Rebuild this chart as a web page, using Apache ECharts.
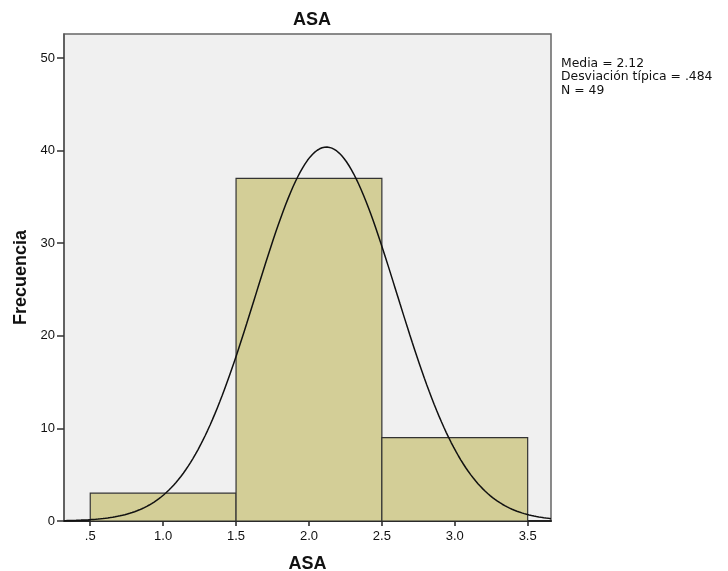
<!DOCTYPE html>
<html>
<head>
<meta charset="utf-8">
<script src="https://cdn.jsdelivr.net/npm/echarts@6/dist/echarts.min.js"></script>
<style>
  html, body { margin: 0; padding: 0; background: #fff; }
  #chart { width: 728px; height: 571px; }
</style>
</head>
<body>
<div id="chart"></div>
<script>
// histograma ASA
const binStarts = [0.5, 1.5, 2.5]
const binEnds = [1.5, 2.5, 3.5]
const counts = [3, 37, 9]
const xTicks = [0.5, 1.0, 1.5, 2.0, 2.5, 3.0, 3.5]
const xTickLabels = ['.5', '1.0', '1.5', '2.0', '2.5', '3.0', '3.5']
const statLines = ['Media = 2.12', 'Desviación típica = .484', 'N = 49']
const mean = 2.12
const sd = 0.484
const n = 49
const binWidth = 1

const xMin = 0.32
const xMax = 3.66

// curva normal ajustada a partir de media, desviación y N
const curve = []
for (let i = 0; i <= 200; i++) {
  const x = xMin + (xMax - xMin) * i / 200
  const z = (x - mean) / sd
  curve.push([x, n * binWidth / (sd * Math.sqrt(2 * Math.PI)) * Math.exp(-0.5 * z * z)])
}

const bars = binStarts.map((s, i) => [s, binEnds[i], counts[i]])

const narrow = '"Liberation Sans Narrow", "Arial Narrow", "Liberation Sans", sans-serif'

const myChart = echarts.init(document.getElementById('chart'))
const option = {
  animation: false,
  title: {
    text: 'ASA',
    left: 307,
    top: 6,
    textAlign: 'center',
    textStyle: { fontFamily: narrow, fontSize: 18, fontWeight: 'bold', color: '#111' }
  },
  grid: {
    left: 64, top: 34, right: 177, bottom: 50,
    outerBoundsMode: 'none',
    containLabel: false,
    show: true,
    backgroundColor: '#f0f0f0',
    borderColor: '#666',
    borderWidth: 1.5
  },
  xAxis: {
    type: 'value',
    min: xMin,
    max: xMax,
    name: 'ASA',
    nameLocation: 'middle',
    nameGap: 34,
    nameTextStyle: { fontFamily: narrow, fontSize: 18, fontWeight: 'bold', color: '#111' },
    splitLine: { show: false },
    axisLine: { lineStyle: { color: '#222', width: 2 } },
    axisTick: { customValues: xTicks, length: 5, lineStyle: { color: '#222', width: 1.5 } },
    axisLabel: {
      customValues: xTicks,
      formatter: v => xTickLabels[xTicks.findIndex(t => Math.abs(t - v) < 1e-6)],
      margin: 9,
      fontFamily: narrow,
      fontSize: 13,
      color: '#111'
    }
  },
  yAxis: {
    type: 'value',
    min: 0,
    max: 52.6,
    interval: 10,
    name: 'Frecuencia',
    nameLocation: 'middle',
    nameGap: 33,
    nameTextStyle: { fontFamily: narrow, fontSize: 18, fontWeight: 'bold', color: '#111' },
    splitLine: { show: false },
    axisLine: { show: true, lineStyle: { color: '#555', width: 1.5 } },
    axisTick: { show: true, length: 7, lineStyle: { color: '#333', width: 1.5 } },
    axisLabel: {
      margin: 9,
      fontFamily: narrow,
      fontSize: 13,
      color: '#111',
      showMaxLabel: false
    }
  },
  graphic: [{
    type: 'text',
    left: 561,
    top: 57,
    style: {
      text: statLines.join('\n'),
      fontFamily: '"DejaVu Sans", sans-serif',
      fontSize: 12.4,
      lineHeight: 13.5,
      fill: '#111'
    }
  }],
  series: [
    {
      type: 'custom',
      data: bars,
      encode: { x: [0, 1], y: 2 },
      renderItem: (params, api) => {
        const p0 = api.coord([api.value(0), api.value(2)])
        const p1 = api.coord([api.value(1), 0])
        return {
          type: 'rect',
          shape: { x: p0[0], y: p0[1], width: p1[0] - p0[0], height: p1[1] - p0[1] },
          style: { fill: '#d3ce97', stroke: '#333', lineWidth: 1.2 }
        }
      },
      z: 2
    },
    {
      type: 'line',
      data: curve,
      showSymbol: false,
      smooth: false,
      lineStyle: { color: '#111', width: 1.5 },
      clip: true,
      z: 3
    }
  ]
}
myChart.setOption(option)
</script>
</body>
</html>
